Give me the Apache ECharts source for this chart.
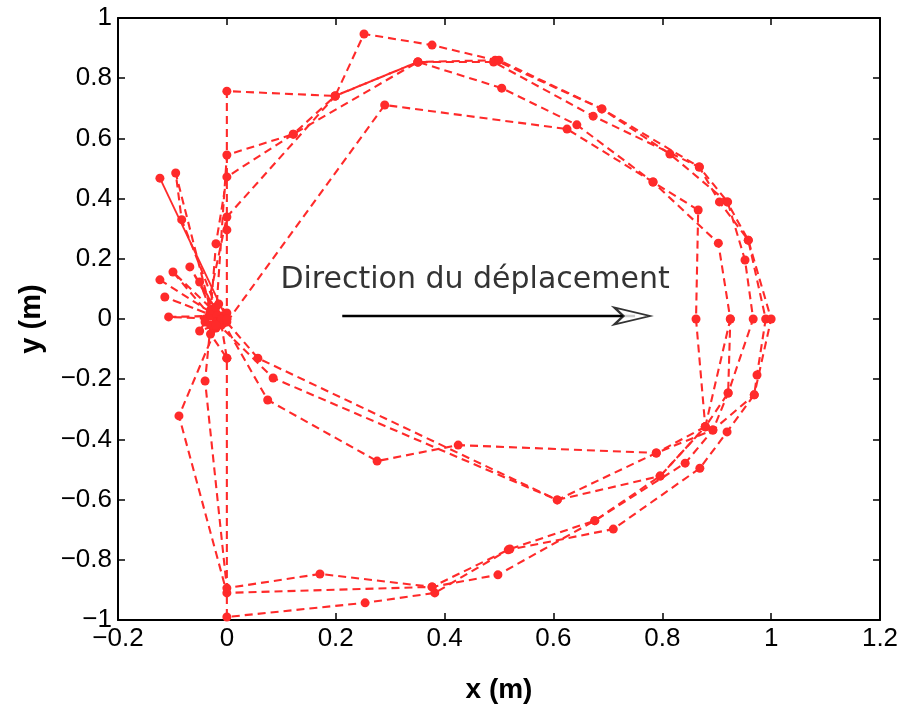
<!DOCTYPE html>
<html>
<head>
<meta charset="utf-8">
<script src="https://cdn.jsdelivr.net/npm/echarts@6/dist/echarts.min.js"></script>
<style>html,body{margin:0;padding:0;background:#fff}#c{width:908px;height:715px}</style>
</head>
<body>
<div id="c"></div>
<script>
// ---- data (metres) ----
const xTicks = [-0.2, 0, 0.2, 0.4, 0.6, 0.8, 1, 1.2];
const yTicks = [-1, -0.8, -0.6, -0.4, -0.2, 0, 0.2, 0.4, 0.6, 0.8, 1];

const lapA = [[0,0],[0,0.296],[0,0.757],[0.199,0.741],[0.252,0.947],[0.377,0.910],[0.493,0.860],[0.689,0.698],[0.814,0.548],[0.919,0.389],[0.958,0.262],[0.990,0.0],[0.974,-0.186],[0.969,-0.252],[0.919,-0.375],[0.869,-0.496],[0.710,-0.698],[0.517,-0.767],[0.382,-0.910],[0.254,-0.943],[0,-0.990],[0,-0.130],[-0.01,-0.02]];
const lapB = [[-0.02,0.01],[0,0.545],[0.122,0.614],[0.351,0.854],[0.490,0.854],[0.673,0.674],[0.868,0.505],[0.920,0.389],[0.952,0.196],[0.967,0.0],[0.921,-0.246],[0.893,-0.369],[0.842,-0.479],[0.676,-0.670],[0.498,-0.850],[0.377,-0.890],[0,-0.910],[-0.088,-0.322],[-0.02,-0.03]];
const lapC = [[-0.03,0.02],[-0.02,0.25],[0,0.472],[0.122,0.614],[0.199,0.741],[0.351,0.854],[0.505,0.767],[0.643,0.645],[0.783,0.455],[0.903,0.252],[0.925,0.0],[0.921,-0.246],[0.879,-0.358],[0.789,-0.445],[0.425,-0.419],[0.276,-0.472],[0.075,-0.269],[-0.01,0.0]];
const lapD = [[0.0,-0.01],[0.290,0.711],[0.625,0.631],[0.783,0.455],[0.866,0.362],[0.862,0.0],[0.879,-0.358],[0.796,-0.522],[0.607,-0.601],[0.085,-0.196],[-0.02,-0.01]];
const lapE = [[-0.04,0.0],[0,0.339],[0.199,0.741],[0.351,0.854],[0.500,0.860],[0.689,0.698],[0.868,0.505],[0.905,0.389],[0.958,0.262],[1.0,0.0],[0.969,-0.252],[0.893,-0.369],[0.789,-0.445],[0.607,-0.601],[0.057,-0.130],[-0.01,0.01]];
const lapF = [[-0.03,-0.02],[-0.040,-0.206],[0,-0.894],[0.171,-0.847],[0.377,-0.890],[0.520,-0.764],[0.676,-0.670],[0.796,-0.522],[0.879,-0.358],[0.925,0.0]];
const spokes = [[-0.123,0.130],[-0.01,0.0],[-0.114,0.073],[-0.01,0.0],[-0.107,0.007],[-0.03,0.01],[-0.099,0.156],[-0.02,0.02],[-0.068,0.173],[-0.01,0.0],[-0.050,0.123],[-0.03,0.03],[-0.094,0.485],[-0.083,0.33],[-0.02,0.04],[-0.04,-0.01],[-0.05,-0.04],[-0.02,-0.02],[0,0.02],[-0.015,0.05],[-0.03,-0.05],[0,-0.13]];
const solidSeg = [[-0.123,0.468],[0,0]];
const arrowLine = [[0.212,0.01],[0.75,0.01]];
const arrowHead = [[0.745,0.01]];
const annotation = { text: 'Direction du déplacement', at: [0.456, 0.13] };

const RED = '#ff2a2a';
const fmt = v => String(+(+v).toFixed(1)).replace('-', '\u2212');
const FONT = 'Liberation Sans, Arial, Helvetica, sans-serif';

function lap(data){
  return {type:'line', data, symbol:'circle', symbolSize:9, showSymbol:true, z:3,
    itemStyle:{color:RED}, lineStyle:{color:RED, width:2.1, type:[8,5]}, animation:false, silent:true};
}
const axisCommon = {
  axisLine:{show:true, onZero:false, lineStyle:{color:'#000', width:2}},
  axisTick:{show:true, inside:true, length:7, lineStyle:{color:'#000', width:1.5}},
  splitLine:{show:false}
};

const chart = echarts.init(document.getElementById('c'), null, {renderer:'canvas'});
chart.setOption({
  backgroundColor:'#fff',
  animation:false,
  grid:{left:118, right:28, top:18, bottom:95, show:false},
  xAxis:[
    Object.assign({type:'value', min:xTicks[0], max:xTicks[xTicks.length-1], interval:0.2, position:'bottom',
      name:'x (m)', nameLocation:'middle', nameGap:56,
      nameTextStyle:{fontSize:28, fontWeight:'bold', color:'#000', fontFamily:FONT},
      axisLabel:{formatter:fmt, fontSize:26, color:'#000', margin:6, fontFamily:FONT}}, axisCommon),
    Object.assign({type:'value', min:xTicks[0], max:xTicks[xTicks.length-1], interval:0.2, position:'top',
      axisLabel:{show:false}}, axisCommon)
  ],
  yAxis:[
    Object.assign({type:'value', min:yTicks[0], max:yTicks[yTicks.length-1], interval:0.2, position:'left',
      name:'y (m)', nameLocation:'middle', nameGap:72, nameRotate:90,
      nameTextStyle:{fontSize:29, fontWeight:'bold', color:'#000', fontFamily:FONT},
      axisLabel:{formatter:fmt, fontSize:26, color:'#000', margin:6, fontFamily:FONT}}, axisCommon),
    Object.assign({type:'value', min:yTicks[0], max:yTicks[yTicks.length-1], interval:0.2, position:'right',
      axisLabel:{show:false}}, axisCommon)
  ],
  series:[
    lap(lapA), lap(lapB), lap(lapC), lap(lapD), lap(lapE), lap(lapF), lap(spokes),
    {type:'line', data:solidSeg, symbol:'circle', symbolSize:9, itemStyle:{color:RED},
      lineStyle:{color:RED, width:1.8, type:'solid'}, z:3},
    {type:'line', data:arrowLine, symbol:'none', lineStyle:{color:'#000', width:2.4}, z:4},
    {type:'scatter', data:arrowHead, symbol:'path://M0,0 L36,8.5 L0,17 L9,8.5 Z', symbolSize:[36,17],
      itemStyle:{color:'#fff', borderColor:'#000', borderWidth:2.2}, z:5},
    {type:'scatter', data:[annotation.at], symbolSize:0, z:5,
      label:{show:true, position:'inside', formatter:annotation.text, fontSize:30, color:'#000', fontFamily:'DejaVu Sans, Liberation Sans, sans-serif'}}
  ]
});
</script>
</body>
</html>
